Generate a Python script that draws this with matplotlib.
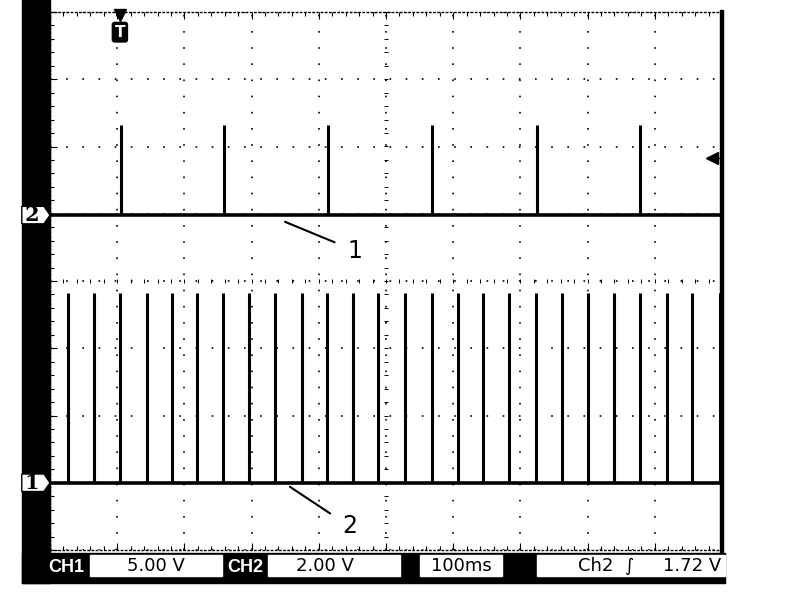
import numpy as np
import matplotlib
matplotlib.use("Agg")
import matplotlib.pyplot as plt
from matplotlib.patches import Rectangle, Polygon

# ---- scope readings (time in ms, level in divisions) ----
t_span = 1000.0
ch1_pulses = [26.8, 65.5, 104.2, 144.3, 181.5, 218.8, 257.4, 296.1, 334.8, 375.0,
              412.2, 450.9, 488.1, 528.3, 568.5, 607.1, 644.3, 683.0, 723.2, 761.9,
              800.6, 839.3, 878.0, 918.2, 955.4, 997.0]
ch2_pulses = [105.7, 258.9, 413.7, 568.5, 724.7, 878.0]
ch1_base, ch1_amp = -3.0, 2.82
ch2_base, ch2_amp = 0.98, 1.34
trig_time = 104.0
trig_level = 1.83
bottom_labels = ["CH1", "5.00 V", "CH2", "2.00 V", "100ms", "Ch2  \u222b     1.72 V"]

fig = plt.figure(figsize=(8, 6), dpi=100)

# pixel space frame (black bezel and readout bar)
bg = fig.add_axes([0, 0, 1, 1])
bg.set_xlim(0, 800)
bg.set_ylim(600, 0)
bg.axis("off")
bg.add_patch(Rectangle((22, 0), 28, 583, color="black"))
bg.add_patch(Rectangle((22, 553), 703, 30, color="black"))
bg.add_patch(Rectangle((720, 10), 3, 545, color="black"))
boxes = [(90, 222), (268, 400), (420, 502), (537, 725)]
for x0, x1 in boxes:
    bg.add_patch(Rectangle((x0, 555), x1 - x0, 21, color="white"))
bg.text(66, 567, bottom_labels[0], color="white", fontsize=13, fontweight="bold",
        ha="center", va="center", family="Liberation Sans")
bg.text(156, 566, bottom_labels[1], color="black", fontsize=13, ha="center", va="center")
bg.text(245, 567, bottom_labels[2], color="white", fontsize=13, fontweight="bold",
        ha="center", va="center", family="Liberation Sans")
bg.text(325, 566, bottom_labels[3], color="black", fontsize=13, ha="center", va="center")
bg.text(461, 566, bottom_labels[4], color="black", fontsize=13, ha="center", va="center")
bg.text(721, 566, bottom_labels[5], color="black", fontsize=13, ha="right", va="center")

# graticule
ax = fig.add_axes([50 / 800, 1 - 550 / 600, 672 / 800, 538 / 600])
ax.set_xlim(0, t_span)
ax.set_ylim(-4, 4)
ax.patch.set_alpha(0)
for s in ax.spines.values():
    s.set_linestyle((0, (1, 2)))
    s.set_linewidth(1.0)
ax.set_xticks(np.arange(0, 1001, 100))
ax.set_yticks(np.arange(-4, 5, 1))
ax.set_xticks(np.arange(0, 1001, 20), minor=True)
ax.set_yticks(np.arange(-4, 4.01, 0.2), minor=True)
ax.tick_params(which="both", direction="in", top=True, right=False, left=True,
               labelbottom=False, labelleft=False, length=3, width=0.8)
ax.tick_params(which="major", length=5)
ax.grid(True, which="major", color="black", linestyle=(0, (1, 8.7)), linewidth=1.2)

# centre cross ticks
minor_x = np.arange(0, 1001, 20)
minor_y = np.arange(-4, 4.01, 0.2)
ax.plot(minor_x, np.zeros_like(minor_x), ls="none", marker="|", ms=3, color="black", mew=0.7)
ax.plot(np.full_like(minor_y, 500), minor_y, ls="none", marker="_", ms=3, color="black", mew=0.7)

# traces
ax.plot([0, t_span], [ch2_base, ch2_base], color="black", lw=2.6, solid_capstyle="butt")
ax.vlines(ch2_pulses, ch2_base, ch2_base + ch2_amp, color="black", lw=2.2)
ax.plot([0, t_span], [ch1_base, ch1_base], color="black", lw=2.6, solid_capstyle="butt")
ax.vlines(ch1_pulses, ch1_base, ch1_base + ch1_amp, color="black", lw=2.2)

# channel markers on the left
for lab, lev in (("2", ch2_base), ("1", ch1_base)):
    ax.add_patch(Polygon([(-42, lev + 0.13), (-9, lev + 0.13), (0, lev),
                          (-9, lev - 0.13), (-42, lev - 0.13)], closed=True,
                         facecolor="white", edgecolor="black", clip_on=False, zorder=5))
    ax.text(-27, lev, lab, fontsize=15, fontweight="bold", family="DejaVu Serif",
            ha="center", va="center", zorder=6, clip_on=False)

# trigger position and level
ax.plot([trig_time], [3.96], marker="v", ms=9, color="black", clip_on=False)
ax.text(trig_time, 3.7, "T", color="white", fontsize=11, fontweight="bold",
        ha="center", va="center",
        bbox=dict(boxstyle="round,pad=0.15", fc="black", ec="black"))
ax.plot([985, 1000], [trig_level, trig_level], color="black", lw=1)
ax.plot([985], [trig_level], marker="<", ms=8, color="black")

# callouts
ax.annotate("1", xy=(349.7, 0.88), xytext=(454, 0.45), fontsize=17,
            ha="center", va="center",
            arrowprops=dict(arrowstyle="-", color="black", lw=1.5, shrinkA=8, shrinkB=0))
ax.annotate("2", xy=(357, -3.06), xytext=(446, -3.65), fontsize=17,
            ha="center", va="center",
            arrowprops=dict(arrowstyle="-", color="black", lw=1.5, shrinkA=8, shrinkB=0))

fig.savefig("out.png", dpi=100)
